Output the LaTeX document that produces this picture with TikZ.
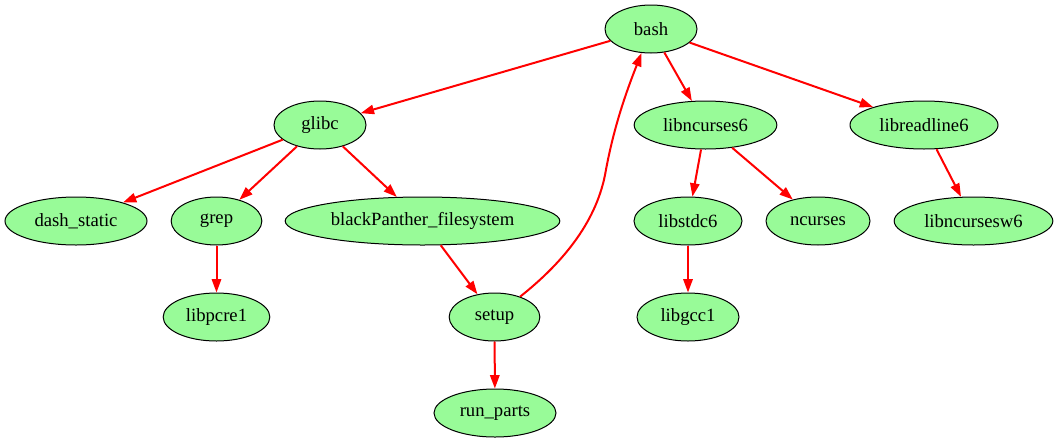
\documentclass[tikz,border=0pt]{standalone}
\usepackage{fontspec}
\setmainfont{Liberation Serif}
\usetikzlibrary{shapes.geometric,arrows.meta}
\definecolor{nodegreen}{HTML}{98FB98}
\definecolor{edgered}{HTML}{FF0000}
\tikzset{
  pkg/.style={ellipse, draw=black, line width=0.75pt, fill=nodegreen, inner sep=0pt,
    minimum height=36pt, font=\fontsize{14pt}{16pt}\selectfont},
  dep/.style={draw=edgered, line width=1.5pt, -{Triangle[length=10pt,width=7pt]}}
}
\begin{document}
\begin{tikzpicture}[x=0.75pt,y=-0.75pt]
\useasboundingbox (0,0) rectangle (1059,443);
\node[pkg, minimum width=69pt] (bash) at (651,29) {bash};
\node[pkg, minimum width=69pt] (glibc) at (320,125) {glibc};
\node[pkg, minimum width=107pt] (libncurses6) at (705.5,125) {libncurses6};
\node[pkg, minimum width=111pt] (libreadline6) at (924,125) {libreadline6};
\node[pkg, minimum width=106.5pt] (dash) at (76,221) {dash\_static};
\node[pkg, minimum width=68pt] (grep) at (216.5,221) {grep};
\node[pkg, minimum width=206pt] (bpfs) at (422.5,221) {blackPanther\_filesystem};
\node[pkg, minimum width=81pt] (libstdc6) at (688,221) {libstdc6};
\node[pkg, minimum width=78pt] (ncurses) at (818,221) {ncurses};
\node[pkg, minimum width=119pt] (libncursesw6) at (973.5,221) {libncursesw6};
\node[pkg, minimum width=80pt] (libpcre1) at (216.5,317) {libpcre1};
\node[pkg, minimum width=68pt] (setup) at (494.5,317) {setup};
\node[pkg, minimum width=76.5pt] (libgcc1) at (688,317) {libgcc1};
\node[pkg, minimum width=91.5pt] (runparts) at (495,413) {run\_parts};

\draw[dep] (bash) -- (glibc);
\draw[dep] (bash) -- (libncurses6);
\draw[dep] (bash) -- (libreadline6);
\draw[dep] (glibc) -- (dash);
\draw[dep] (glibc) -- (grep);
\draw[dep] (glibc) -- (bpfs);
\draw[dep] (grep) -- (libpcre1);
\draw[dep] (bpfs) -- (setup);
\draw[dep] (setup) -- (runparts);
\draw[dep] (libncurses6) -- (libstdc6);
\draw[dep] (libncurses6) -- (ncurses);
\draw[dep] (libstdc6) -- (libgcc1);
\draw[dep] (libreadline6) -- (libncursesw6);
\coordinate (mid) at (605,175);
\draw[dep] (setup) .. controls (560,265) and (595,225) .. (mid)
  .. controls (613,130) and (625,95) .. (bash);
\end{tikzpicture}
\end{document}
